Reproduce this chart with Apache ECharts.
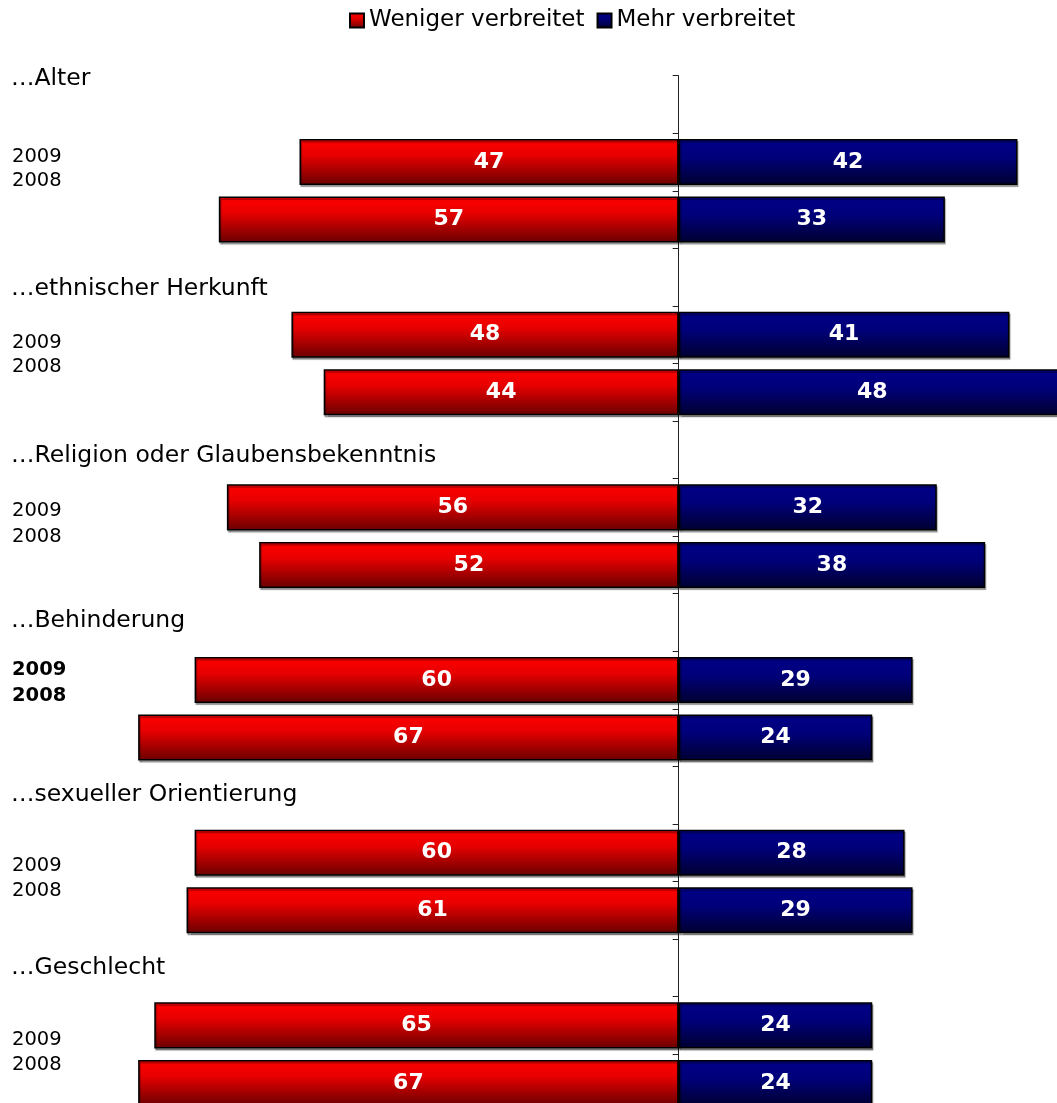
<!DOCTYPE html>
<html>
<head>
<meta charset="utf-8">
<script src="https://cdn.jsdelivr.net/npm/echarts@6/dist/echarts.min.js"></script>
<style>
html,body{margin:0;padding:0;background:#fff;}
#chart{width:1057px;height:1103px;}
</style>
</head>
<body>
<div id="chart"></div>
<script>
const groups = ['…Alter', '…ethnischer Herkunft', '…Religion oder Glaubensbekenntnis', '…Behinderung', '…sexueller Orientierung', '…Geschlecht'];
const years = ['2009', '2008'];
const less2009 = [47, 48, 56, 60, 60, 65];
const less2008 = [57, 44, 52, 67, 61, 67];
const more2009 = [42, 41, 32, 29, 28, 24];
const more2008 = [33, 48, 38, 24, 29, 24];
const seriesNames = ['Weniger verbreitet', 'Mehr verbreitet'];

// build category rows: header, 2009, 2008 per group
const cats = [], lessData = [], moreData = [];
groups.forEach((g, i) => {
  cats.push(g); lessData.push('-'); moreData.push('-');
  cats.push(g + ' ' + years[0]); lessData.push(-less2009[i]); moreData.push(more2009[i]);
  cats.push(g + ' ' + years[1]); lessData.push(-less2008[i]); moreData.push(more2008[i]);
});

const FONT = 'DejaVu Sans';
const redGrad = new echarts.graphic.LinearGradient(0, 0, 0, 1, [
  {offset: 0, color: '#ff0000'}, {offset: 0.35, color: '#e80000'}, {offset: 1, color: '#6a0000'}]);
const blueGrad = new echarts.graphic.LinearGradient(0, 0, 0, 1, [
  {offset: 0, color: '#000088'}, {offset: 0.4, color: '#00007a'}, {offset: 1, color: '#000030'}]);

// text annotations (left side labels)
const headerY = [78, 288, 455, 620, 794, 967];
const yearY = [[157, 181], [343, 367], [511, 537], [670, 696], [866, 891], [1040, 1065]];
const graphics = [];
groups.forEach((g, i) => {
  graphics.push({type: 'text', left: 11, top: headerY[i] - 11,
    style: {text: g, font: '23.5px "' + FONT + '"', fill: '#000'}});
  years.forEach((y, j) => {
    graphics.push({type: 'text', left: 12, top: yearY[i][j] - 10,
      style: {text: y, font: (i === 3 ? 'bold ' : '') + '19.5px "' + FONT + '"', fill: '#000'}});
  });
});

const chart = echarts.init(document.getElementById('chart'), null, {renderer: 'canvas'});
const labelCfg = {
  show: true, position: 'inside', color: '#fff', fontFamily: FONT, fontWeight: 'bold', fontSize: 22,
  formatter: p => Math.abs(p.value)
};
chart.setOption({
  animation: false,
  backgroundColor: '#fff',
  textStyle: {fontFamily: FONT},
  legend: {
    top: 4, left: 344, itemWidth: 14, itemHeight: 14, itemGap: 12,
    icon: 'rect',
    textStyle: {fontFamily: FONT, fontSize: 23, color: '#000'},
    data: seriesNames
  },
  grid: {left: 1, top: 75.7, width: 1081, height: 1036, containLabel: false, outerBoundsMode: 'none'},
  xAxis: {
    type: 'value', min: -84, max: 50, show: false,
    splitLine: {show: false}
  },
  yAxis: {
    type: 'category', inverse: true, data: cats,
    axisLine: {show: true, onZero: true, lineStyle: {color: '#222', width: 1}},
    axisTick: {show: true, length: 6, lineStyle: {color: '#222', width: 1}},
    axisLabel: {show: false},
    splitLine: {show: false}
  },
  series: [
    {
      name: seriesNames[0], type: 'bar', stack: 'total', data: lessData,
      barCategoryGap: '20%',
      itemStyle: {color: redGrad, borderColor: '#000', borderWidth: 1.5,
        shadowColor: 'rgba(0,0,0,0.35)', shadowOffsetX: 1, shadowOffsetY: 2, shadowBlur: 1},
      label: labelCfg
    },
    {
      name: seriesNames[1], type: 'bar', stack: 'total', data: moreData,
      barCategoryGap: '20%',
      itemStyle: {color: blueGrad, borderColor: '#000', borderWidth: 1.5,
        shadowColor: 'rgba(0,0,0,0.35)', shadowOffsetX: 1, shadowOffsetY: 2, shadowBlur: 1},
      label: labelCfg
    }
  ],
  graphic: graphics
});
</script>
</body>
</html>
